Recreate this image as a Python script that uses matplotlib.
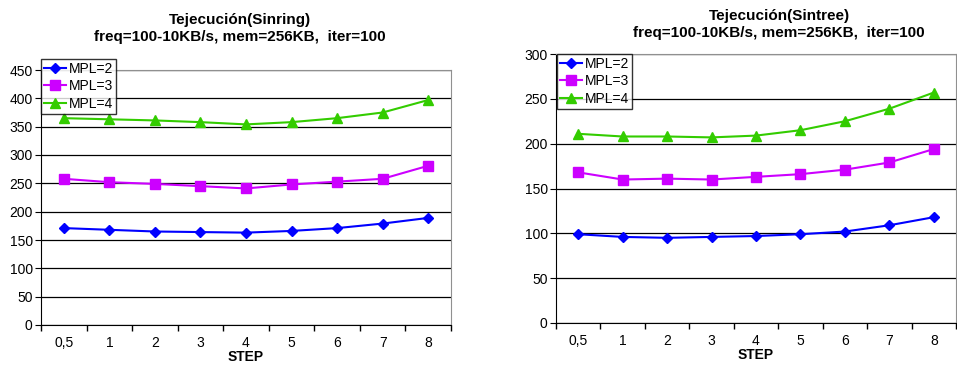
import matplotlib
matplotlib.use("Agg")
import matplotlib.pyplot as plt
from matplotlib.ticker import FixedLocator, NullFormatter

plt.rcParams['font.family'] = ['Liberation Sans', 'DejaVu Sans']

steps = ["0,5", "1", "2", "3", "4", "5", "6", "7", "8"]
series_names = ["MPL=2", "MPL=3", "MPL=4"]

sinring_mpl2 = [171, 168, 165, 164, 163, 166, 171, 179, 189]
sinring_mpl3 = [258, 252, 249, 245, 241, 248, 253, 258, 281]
sinring_mpl4 = [365, 363, 361, 358, 354, 358, 365, 375, 397]

sintree_mpl2 = [99, 96, 95, 96, 97, 99, 102, 109, 118]
sintree_mpl3 = [168, 160, 161, 160, 163, 166, 171, 179, 194]
sintree_mpl4 = [211, 208, 208, 207, 209, 215, 225, 239, 257]

title_left = "Tejecución(Sinring)\nfreq=100-10KB/s, mem=256KB,  iter=100"
title_right = "Tejecución(Sintree)\nfreq=100-10KB/s, mem=256KB,  iter=100"

colors = ["#0000FF", "#CC00FF", "#33CC00"]
markers = ["D", "s", "^"]
msizes = [5, 7, 7]

fig = plt.figure(figsize=(9.57, 3.65), dpi=100)
W, H = 957, 365

def make_ax(rect_px, data, ymax, title, title_x, title_y, leg_px):
    l, t, r, b = rect_px
    ax = fig.add_axes([l / W, 1 - b / H, (r - l) / W, (b - t) / H])
    x = list(range(len(steps)))
    for vals, name, c, m, ms in zip(data, series_names, colors, markers, msizes):
        ax.plot(x, vals, color=c, marker=m, markersize=ms, lw=1.5, label=name,
                markeredgecolor=c, clip_on=False, zorder=3)
    ax.set_xlim(-0.5, len(steps) - 0.5)
    ax.set_ylim(0, ymax)
    ax.set_yticks(range(0, ymax + 1, 50))
    ax.yaxis.grid(True, color="black", lw=0.9)
    ax.set_axisbelow(True)
    ax.xaxis.set_major_locator(FixedLocator([i - 0.5 for i in range(len(steps) + 1)]))
    ax.xaxis.set_major_formatter(NullFormatter())
    ax.xaxis.set_minor_locator(FixedLocator(x))
    ax.set_xticklabels(steps, minor=True)
    ax.tick_params(axis="x", which="minor", length=0, labelsize=10, pad=8)
    ax.tick_params(axis="x", which="major", length=4, direction="out", width=1)
    ax.tick_params(axis="y", length=4, direction="out", labelsize=10, pad=2)
    for s in ["top", "right"]:
        ax.spines[s].set_color("#909090")
    for s in ["left", "bottom"]:
        ax.spines[s].set_color("black")
    ax.set_xlabel("STEP", fontweight="bold", fontsize=10, labelpad=0)
    fig.text(title_x / W, 1 - title_y / H, title, ha="center", va="top",
             fontweight="bold", fontsize=11, linespacing=1.3)
    ll, lt = leg_px
    leg = ax.legend(loc="upper left",
                    bbox_to_anchor=((ll - l) / (r - l), (b - lt) / (b - t)),
                    frameon=True, fancybox=False, edgecolor="black",
                    fontsize=10, borderpad=0.2, labelspacing=0.25,
                    handlelength=1.6, handletextpad=0.2, borderaxespad=0)
    leg.get_frame().set_linewidth(1.0)
    return ax

make_ax((41, 70, 451, 325),
        [sinring_mpl2, sinring_mpl3, sinring_mpl4], 450, title_left, 240, 13, (41, 59))
make_ax((556, 54, 956, 323),
        [sintree_mpl2, sintree_mpl3, sintree_mpl4], 300, title_right, 779, 9, (557, 54))

fig.savefig("out.png", dpi=100)
